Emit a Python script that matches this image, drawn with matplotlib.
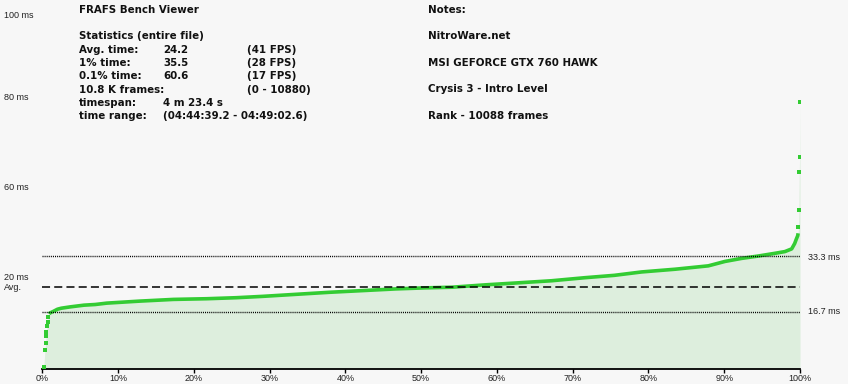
import matplotlib
matplotlib.use('Agg')
import matplotlib.pyplot as plt
import numpy as np

plt.rcParams['lines.scale_dashes'] = False

W, H = 848, 384

# frame-time percentile curve (percent of frames, ms)
head_pct = [0.2, 0.35, 0.45, 0.5, 0.55, 0.65, 0.7, 0.8]
head_ms = [0.6, 5.6, 7.7, 9.8, 11.0, 12.7, 13.9, 15.4]

body_pct = [0.9, 1.0, 1.4, 2.0, 2.5, 3.7, 5.5, 7.0, 8.5, 12.9, 17.3, 21.7, 25.6,
            29.1, 33.5, 37.9, 42.3, 46.7, 50.5, 54.1, 58.5, 62.9, 67.2, 71.6,
            75.5, 79.1, 83.5, 87.9, 90.1, 92.3, 94.5, 96.7, 98.0, 98.9, 99.3,
            99.5, 99.7, 99.75]
body_ms = [16.2, 16.5, 16.9, 17.6, 17.9, 18.3, 18.8, 19.0, 19.4, 20.0, 20.5, 20.7,
           21.0, 21.4, 22.0, 22.6, 23.1, 23.6, 23.9, 24.1, 24.8, 25.4, 26.0, 26.9,
           27.6, 28.6, 29.4, 30.4, 31.7, 32.6, 33.3, 34.1, 34.6, 35.4, 37.0,
           38.2, 39.3, 40.0]

tail_pct = [99.8, 99.85, 99.9, 99.95, 100.0]
tail_ms = [41.9, 46.9, 58.2, 62.4, 78.6]

avg_ms = 24.2
fps30_ms = 33.3
fps60_ms = 16.7

x_ticks = [0, 10, 20, 30, 40, 50, 60, 70, 80, 90, 100]
x_labels = ['%d%%' % t for t in x_ticks]

# labels along the left side, as drawn by the viewer (text, pixel y)
left_labels = [('100 ms', 15), ('80 ms', 98), ('60 ms', 187), ('20 ms', 278), ('Avg.', 288)]

stats_rows = [
    ('Avg. time:', '24.2', '(41 FPS)'),
    ('1% time:', '35.5', '(28 FPS)'),
    ('0.1% time:', '60.6', '(17 FPS)'),
    ('10.8 K frames:', '', '(0 - 10880)'),
    ('timespan:', '4 m 23.4 s', ''),
    ('time range:', '(04:44:39.2 - 04:49:02.6)', ''),
]
notes = ['Notes:', 'NitroWare.net', 'MSI GEFORCE GTX 760 HAWK',
         'Crysis 3 - Intro Level', 'Rank - 10088 frames']
notes_y = [10, 36, 63, 89, 116]

green = '#33cc33'
fill = '#ddeedd'


def px(x, y):
    return x / W, 1 - y / H


fig = plt.figure(figsize=(W / 100, H / 100), dpi=100, facecolor='#f7f7f7')
ax = fig.add_axes([42.3 / W, 15.1 / H, 757.7 / W, 339 / H])
ax.set_facecolor('none')

all_pct = np.array(head_pct + body_pct + tail_pct)
all_ms = np.array(head_ms + body_ms + tail_ms)
ax.fill_between(all_pct, 0, all_ms, color=fill, lw=0, zorder=1)

ax.plot(body_pct, body_ms, color=green, lw=2.6, solid_capstyle='butt', zorder=3)
ax.plot(head_pct, head_ms, 's', color=green, ms=2.2, mew=0, zorder=3)
ax.plot(tail_pct, tail_ms, 's', color=green, ms=2.4, mew=0, zorder=3)

ax.axhline(fps30_ms, color='black', lw=1.0, dashes=(0.75, 0.75), zorder=4)
ax.axhline(fps60_ms, color='black', lw=1.0, dashes=(0.75, 0.75), zorder=4)
ax.axhline(avg_ms, color='black', lw=1.1, dashes=(5.8, 3.0), zorder=4)

ax.set_xlim(0, 100)
ax.set_ylim(0, 100)
for s in ['top', 'right', 'left']:
    ax.spines[s].set_visible(False)
ax.spines['bottom'].set_linewidth(1.3)
ax.set_yticks([])
ax.set_xticks(x_ticks)
ax.set_xticklabels(x_labels, fontsize=6.5, color='#222222', family='Liberation Sans')
ax.tick_params(axis='x', length=3, width=1, pad=1)

for txt, y in left_labels:
    fig.text(*px(4, y), txt, fontsize=6.5, color='#222222', va='center',
             family='Liberation Sans')
fig.text(*px(808, 257), '33.3 ms', fontsize=6.5, color='#222222', va='center',
         family='Liberation Sans')
fig.text(*px(808, 312), '16.7 ms', fontsize=6.5, color='#222222', va='center',
         family='Liberation Sans')

bold = dict(fontsize=7.4, fontweight='bold', va='center', family='DejaVu Sans',
            color='#111111')
fig.text(*px(79, 10), 'FRAFS Bench Viewer', **bold)
fig.text(*px(79, 36), 'Statistics (entire file)', **bold)
row_y = [50, 63, 76, 90, 103, 116]
for (a, b, c), y in zip(stats_rows, row_y):
    fig.text(*px(79, y), a, **bold)
    if b:
        fig.text(*px(163, y), b, **bold)
    if c:
        fig.text(*px(247, y), c, **bold)

for t, y in zip(notes, notes_y):
    fig.text(*px(428, y), t, **bold)

fig.savefig('out.png', dpi=100, facecolor=fig.get_facecolor())
